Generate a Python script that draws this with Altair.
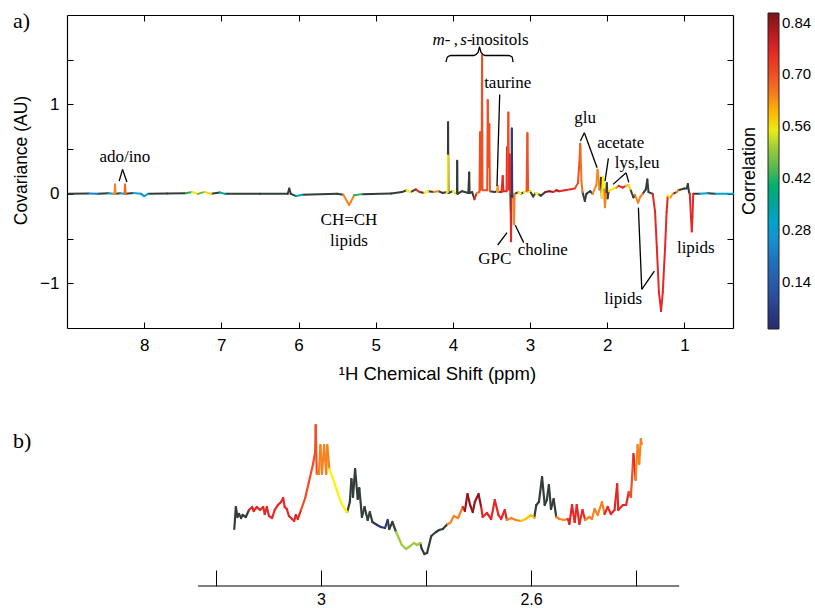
import altair as alt
import pandas as pd

# ---------------- Panel a: covariance spectrum ----------------
# ppm, covariance, correlation of the segment that starts at the point (None = not significant, drawn dark grey)
a_ppm = [8.98, 8.72, 8.60, 8.46, 8.40, 8.385, 8.378, 8.371, 8.31, 8.256,
         8.248, 8.240, 8.14, 8.04, 8.00, 7.95, 7.70, 7.46, 7.38, 7.30,
         7.22, 7.13, 7.02, 6.95, 6.50, 6.14, 6.12, 6.10, 6.03, 5.95,
         5.50, 5.42, 5.37, 5.345, 5.32, 5.28, 5.18, 4.80, 4.66, 4.60,
         4.55, 4.48, 4.43, 4.37, 4.32, 4.25, 4.19, 4.13, 4.08, 4.066,
         4.064, 4.062, 4.057, 4.00, 3.97, 3.947, 3.944, 3.940, 3.88, 3.80,
         3.788, 3.783, 3.75, 3.72, 3.69, 3.655, 3.648, 3.642, 3.628, 3.622,
         3.616, 3.555, 3.548, 3.538, 3.528, 3.520, 3.46, 3.43, 3.42, 3.41,
         3.37, 3.354, 3.345, 3.305, 3.298, 3.292, 3.281, 3.272, 3.263, 3.255,
         3.250, 3.246, 3.241, 3.236, 3.230, 3.215, 3.207, 3.200, 3.15, 3.12,
         3.08, 3.045, 3.034, 3.025, 3.00, 2.96, 2.93, 2.90, 2.86, 2.80,
         2.75, 2.70, 2.66, 2.62, 2.55, 2.48, 2.42, 2.38, 2.36, 2.350,
         2.345, 2.335, 2.32, 2.29, 2.27, 2.22, 2.19, 2.14, 2.125, 2.10,
         2.08, 2.07, 2.055, 2.04, 2.03, 2.015, 2.005, 1.995, 1.98, 1.92,
         1.88, 1.85, 1.80, 1.76, 1.72, 1.70, 1.66, 1.64, 1.60, 1.57,
         1.54, 1.50, 1.48, 1.465, 1.41, 1.38, 1.357, 1.33, 1.302, 1.28,
         1.25, 1.23, 1.215, 1.18, 1.15, 1.10, 1.08, 1.00, 0.97, 0.955,
         0.94, 0.93, 0.915, 0.904, 0.895, 0.885, 0.80, 0.70, 0.60, 0.37]
a_cov = [0.000, 0.004, 0.000, 0.008, 0.000, 0.000, 0.105, 0.000, 0.006, 0.000,
         0.105, 0.000, 0.010, 0.000, -0.025, 0.000, 0.003, 0.008, 0.020, 0.000,
         0.022, 0.000, 0.015, 0.000, 0.002, 0.000, 0.060, 0.000, -0.025, -0.010,
         0.000, -0.010, -0.085, -0.125, -0.085, -0.015, -0.003, 0.003, 0.020, 0.040,
         0.020, 0.050, 0.020, 0.010, 0.030, 0.020, 0.030, 0.010, 0.020, 0.020,
         0.430, 0.800, 0.010, 0.030, 0.010, 0.010, 0.370, 0.000, 0.030, 0.010,
         0.240, 0.010, 0.020, -0.060, 0.010, 0.020, 0.690, 0.050, 0.100, 1.550,
         0.040, 0.040, 1.050, 0.300, 0.780, 0.030, 0.020, 0.030, 0.090, 0.020,
         0.020, 0.200, 0.030, 0.030, 0.520, 0.050, 0.910, 0.050, 0.440, 0.000,
         -0.200, -0.530, -0.050, 0.730, 0.000, -0.050, -0.340, 0.000, 0.020, 0.000,
         0.020, 0.030, 0.680, 0.020, 0.030, -0.030, 0.010, 0.000, -0.020, 0.020,
         0.030, 0.020, 0.040, 0.030, 0.040, 0.050, 0.060, 0.120, 0.350, 0.560,
         0.500, 0.150, 0.020, -0.080, 0.000, 0.030, 0.000, 0.100, 0.270, 0.050,
         0.180, -0.040, 0.190, 0.050, -0.150, 0.000, 0.120, -0.050, 0.030, 0.060,
         0.070, 0.090, 0.070, 0.090, 0.100, 0.050, -0.040, -0.010, -0.100, -0.030,
         0.000, 0.050, 0.160, 0.020, 0.000, -0.200, -0.600, -1.100, -1.310, -1.100,
         -0.600, -0.200, -0.020, -0.040, 0.000, 0.020, 0.040, 0.060, 0.060, 0.110,
         0.020, 0.000, -0.250, -0.420, -0.250, 0.000, 0.000, 0.008, 0.000, 0.000]
a_corr = [None, 0.22, None, 0.30, 0.64, 0.64, 0.64, None, 0.30, 0.67,
          0.67, None, 0.28, 0.25, 0.30, None, None, 0.42, 0.55, 0.45,
          0.58, None, 0.36, None, None, None, None, None, 0.30, None,
          None, 0.64, 0.64, 0.64, 0.64, 0.42, None, None, None, 0.56,
          None, 0.76, None, 0.56, None, 0.64, None, None, 0.57, 0.57,
          None, None, None, 0.56, None, None, None, None, None, None,
          None, None, None, 0.76, 0.64, 0.70, 0.70, 0.70, 0.70, 0.70,
          0.70, 0.70, 0.70, 0.70, 0.70, None, None, 0.62, 0.62, None,
          0.76, 0.76, 0.76, 0.76, 0.76, 0.70, 0.70, 0.76, 0.76, None,
          0.76, 0.76, None, 0.06, None, 0.64, 0.64, None, 0.56, None,
          0.56, 0.70, 0.70, 0.56, None, None, 0.56, None, None, 0.84,
          0.84, 0.76, 0.84, 0.76, 0.76, 0.76, 0.70, 0.70, 0.70, 0.68,
          0.66, 0.66, None, None, None, None, 0.64, 0.64, 0.64, None,
          None, 0.56, 0.56, 0.64, 0.64, None, None, None, 0.57, 0.57,
          0.64, 0.76, 0.76, 0.60, 0.58, None, None, 0.64, 0.64, 0.64,
          None, None, None, None, 0.76, 0.76, 0.76, 0.76, 0.76, 0.76,
          0.76, 0.76, 0.56, 0.62, None, 0.64, None, None, None, None,
          None, 0.76, 0.76, 0.76, 0.76, None, 0.30, None, 0.30, None]

# ---------------- Panel b: expanded region (arbitrary intensity) ----------------
b_ppm = [3.165, 3.162, 3.159, 3.156, 3.152, 3.149, 3.143, 3.137, 3.131, 3.128,
         3.122, 3.116, 3.110, 3.107, 3.103, 3.099, 3.093, 3.088, 3.082, 3.076,
         3.072, 3.069, 3.065, 3.061, 3.055, 3.051, 3.048, 3.044, 3.038, 3.030,
         3.023, 3.015, 3.011, 3.010, 3.008, 3.004, 3.001, 2.998, 2.994, 2.990,
         2.988, 2.984, 2.977, 2.970, 2.962, 2.956, 2.950, 2.945, 2.942, 2.939,
         2.935, 2.930, 2.927, 2.922, 2.917, 2.911, 2.907, 2.902, 2.893, 2.886,
         2.878, 2.873, 2.870, 2.864, 2.857, 2.851, 2.846, 2.838, 2.830, 2.823,
         2.817, 2.811, 2.808, 2.803, 2.798, 2.790, 2.781, 2.775, 2.768, 2.759,
         2.754, 2.747, 2.739, 2.730, 2.726, 2.721, 2.716, 2.711, 2.707, 2.700,
         2.695, 2.692, 2.684, 2.676, 2.669, 2.662, 2.657, 2.650, 2.646, 2.638,
         2.629, 2.619, 2.610, 2.600, 2.594, 2.590, 2.585, 2.579, 2.574, 2.570,
         2.566, 2.562, 2.557, 2.552, 2.546, 2.537, 2.530, 2.527, 2.522, 2.517,
         2.513, 2.508, 2.502, 2.497, 2.489, 2.484, 2.479, 2.473, 2.465, 2.460,
         2.454, 2.448, 2.441, 2.436, 2.434, 2.425, 2.419, 2.414, 2.410, 2.405,
         2.401, 2.397, 2.394, 2.391, 2.389]
b_int = [0.57, 0.79, 0.69, 0.72, 0.68, 0.71, 0.69, 0.76, 0.79, 0.75,
         0.79, 0.76, 0.79, 0.72, 0.79, 0.70, 0.68, 0.76, 0.81, 0.84,
         0.88, 0.79, 0.77, 0.70, 0.67, 0.65, 0.71, 0.67, 0.76, 0.88,
         1.04, 1.22, 1.34, 1.61, 1.12, 1.12, 1.41, 1.12, 1.41, 1.12,
         1.41, 1.17, 1.07, 0.96, 0.84, 0.78, 0.74, 0.84, 1.07, 0.89,
         1.17, 0.87, 0.98, 0.69, 0.79, 0.66, 0.74, 0.64, 0.61, 0.59,
         0.58, 0.66, 0.57, 0.64, 0.54, 0.47, 0.41, 0.37, 0.40, 0.43,
         0.41, 0.43, 0.37, 0.32, 0.33, 0.50, 0.54, 0.56, 0.57, 0.62,
         0.63, 0.70, 0.68, 0.79, 0.75, 0.92, 0.81, 0.74, 0.84, 0.92,
         0.79, 0.69, 0.73, 0.67, 0.86, 0.71, 0.67, 0.76, 0.66, 0.68,
         0.66, 0.65, 0.67, 0.71, 0.68, 0.81, 0.84, 1.09, 0.81, 0.86,
         1.01, 0.77, 0.87, 0.69, 0.67, 0.66, 0.67, 0.62, 0.81, 0.64,
         0.81, 0.62, 0.76, 0.66, 0.69, 0.67, 0.77, 0.71, 0.84, 0.72,
         0.79, 0.72, 0.76, 1.02, 0.76, 0.81, 0.81, 0.94, 0.89, 1.32,
         1.06, 1.41, 1.22, 1.47, 1.42]
b_corr = ([None] * 7 + [0.76] * 21 + [0.70] * 6 + [0.64] * 7 + [0.56] * 5
          + [None] * 12 + [0.05] * 3 + [None] * 3 + [0.50] * 7 + [None] * 8
          + [0.64] * 4 + [0.76] + [0.84] * 6 + [0.76] * 8 + [0.64] * 3
          + [0.59] * 3 + [None] * 9 + [0.64] * 3 + [0.76] * 7 + [0.64] * 6
          + [0.76] * 8 + [0.70] * 2 + [0.76] + [0.64] * 4 + [None])
b_axis_span = [3.234, 2.318]   # extent of the drawn axis line in panel b (ppm)

# ---------------- colour bar ----------------
cb_stops = [0.013, 0.10, 0.20, 0.28, 0.35, 0.42, 0.49, 0.56, 0.63, 0.70, 0.77, 0.866]
cb_colors = ['#262a6c', '#2a4d9c', '#1e73be', '#1ba0db', '#00a49a', '#2bb155',
             '#8cc540', '#fff100', '#f68b1f', '#f04e23', '#e41e26', '#7a1416']
cb_labels = [0.14, 0.28, 0.42, 0.56, 0.70, 0.84]

# ---------------- annotations (panel a, data coordinates) ----------------
ann_text = ['ado/ino', 'CH=CH', 'lipids', 'taurine', 'glu', 'acetate', 'lys,leu',
            'GPC', 'choline', 'lipids', 'lipids']
ann_ppm = [8.25, 5.346, 5.346, 3.289, 2.287, 1.824, 1.613, 3.458, 2.835, 1.794, 0.852]
ann_cov = [0.408, -0.296, -0.530, 1.242, 0.851, 0.572, 0.341, -0.732, -0.631, -1.179, -0.601]

ino_text = ['m-', ',', 's-', 'inositols']
ino_ppm = [4.264, 3.990, 3.905, 3.766]
ino_cov = [1.726, 1.726, 1.726, 1.726]
ino_style = ['italic', 'normal', 'italic', 'normal']

ptr_x = [8.324, 8.280, 3.393, 2.348, 2.296, 1.985, 1.924, 1.755, 3.419, 3.191, 1.596, 1.552]
ptr_y = [0.143, 0.274, 1.112, 0.590, 0.684, 0.397, 0.106, 0.235, -0.572, -0.352, -0.154, -1.067]
ptr_x2 = [8.280, 8.224, 3.428, 2.296, 2.131, 2.028, 1.755, 1.720, 3.298, 3.082, 1.552, 1.389]
ptr_y2 = [0.274, 0.132, 0.087, 0.684, 0.293, 0.143, 0.235, 0.128, -0.434, -0.545, -1.067, -0.863]

brace_ppm = [4.089, 4.069, 4.024, 3.726, 3.674, 3.655, 3.635, 3.583, 3.279, 3.233, 3.220]
brace_cov = [1.473, 1.531, 1.547, 1.547, 1.581, 1.642, 1.581, 1.547, 1.547, 1.531, 1.473]

a_xticks = [1, 2, 3, 4, 5, 6, 7, 8]
a_yticks = [-1, -0.5, 0, 0.5, 1, 1.5]
b_xticks = [3.2, 3.0, 2.8, 2.6, 2.4]

# ---------------- build ----------------
SANS = 'Liberation Sans'
SERIF = 'Liberation Serif'
GREY = '#333d3a'
W_A, H_A = 666, 313
W_B, H_B = 666, 170


def seg_df(p, v, c):
    return pd.DataFrame({'x': p[:-1], 'x2': p[1:], 'y': v[:-1], 'y2': v[1:], 'corr': c[:-1]})


df_a = seg_df(a_ppm, a_cov, a_corr)
df_b = seg_df(b_ppm, b_int, b_corr)

cscale = alt.Scale(domain=cb_stops, range=cb_colors, clamp=True)
xs_a = alt.Scale(domain=[0.37, 9.0], reverse=True, nice=False, zero=False)
ys_a = alt.Scale(domain=[-1.5, 2.0], nice=False, zero=False)
xs_b = alt.Scale(domain=[2.2155, 3.4835], reverse=True, nice=False, zero=False)
ys_b = alt.Scale(domain=[0, 1.7], nice=False, zero=False)


def tick_axis(orient, offset, values, size, domain=True):
    return alt.Axis(orient=orient, offset=offset, values=values, labels=False, ticks=True,
                    tickSize=size, tickColor='black', tickWidth=1, domain=domain,
                    domainColor='black', domainWidth=1.2, grid=False, title=None)


x_lab_a = alt.Axis(orient='bottom', values=a_xticks, ticks=False, tickSize=0, domain=False,
                   grid=False, labelFontSize=17, labelPadding=9, title='¹H Chemical Shift (ppm)',
                   titleFontSize=18.5, titlePadding=11, titleX=370, titleAlign='center')
y_lab_a = alt.Axis(orient='left', values=a_yticks, ticks=False, tickSize=0, domain=False,
                   grid=False, labelFontSize=17, labelPadding=8,
                   labelExpr="datum.value == 0 ? '0' : (datum.value == 1 ? '1' : (datum.value == -1 ? '\u22121' : ''))",
                   title='Covariance (AU)', titleFontSize=17.5, titlePadding=9, titleY=145,
                   titleAlign='center')

legend_a = alt.Legend(title='Correlation', orient='none', legendX=674, legendY=-2,
                      direction='vertical', gradientLength=316, gradientThickness=11,
                      values=cb_labels, format='.2f', labelFont=SANS, labelFontSize=15,
                      labelColor='black', labelOffset=3, labelOverlap=False,
                      titleOrient='left', titleAnchor='middle',
                      titleFont=SANS, titleFontSize=18, titleFontWeight='normal',
                      titleColor='black', titlePadding=8, padding=0,
                      gradientStrokeColor='#222', gradientStrokeWidth=1)

grey_a = alt.Chart(df_a).transform_filter('!isValid(datum.corr)').mark_rule(
    strokeWidth=2, strokeCap='round', color=GREY).encode(
    x=alt.X('x:Q', scale=xs_a, axis=None), x2='x2:Q',
    y=alt.Y('y:Q', scale=ys_a, axis=None), y2='y2:Q')

col_a = alt.Chart(df_a).transform_filter('isValid(datum.corr)').mark_rule(
    strokeWidth=2, strokeCap='round').encode(
    x=alt.X('x:Q', scale=xs_a, axis=x_lab_a), x2='x2:Q',
    y=alt.Y('y:Q', scale=ys_a, axis=y_lab_a), y2='y2:Q',
    color=alt.Color('corr:Q', scale=cscale, legend=legend_a))

tick1_a = alt.Chart(df_a).mark_point(opacity=0).encode(
    x=alt.X('x:Q', scale=xs_a, axis=tick_axis('top', -H_A, a_xticks, 6)),
    y=alt.Y('y:Q', scale=ys_a, axis=tick_axis('right', -W_A, a_yticks, 6)))
tick2_a = alt.Chart(df_a).mark_point(opacity=0).encode(
    x=alt.X('x:Q', scale=xs_a, axis=tick_axis('bottom', -H_A, a_xticks, 6)),
    y=alt.Y('y:Q', scale=ys_a, axis=tick_axis('left', -W_A, a_yticks, 6)))

ann_df = pd.DataFrame({'t': ann_text, 'x': ann_ppm, 'y': ann_cov})
ann_a = alt.Chart(ann_df).mark_text(font=SERIF, fontSize=17, color='black').encode(
    x=alt.X('x:Q', scale=xs_a, axis=None), y=alt.Y('y:Q', scale=ys_a, axis=None), text='t:N')

ino_df = pd.DataFrame({'t': ino_text, 'x': ino_ppm, 'y': ino_cov, 's': ino_style})
ino_it = alt.Chart(ino_df).transform_filter("datum.s == 'italic'").mark_text(
    font=SERIF, fontSize=17, fontStyle='italic', align='left', color='black').encode(
    x=alt.X('x:Q', scale=xs_a, axis=None), y=alt.Y('y:Q', scale=ys_a, axis=None), text='t:N')
ino_no = alt.Chart(ino_df).transform_filter("datum.s == 'normal'").mark_text(
    font=SERIF, fontSize=17, align='left', color='black').encode(
    x=alt.X('x:Q', scale=xs_a, axis=None), y=alt.Y('y:Q', scale=ys_a, axis=None), text='t:N')

ptr_df = pd.DataFrame({'x': ptr_x, 'y': ptr_y, 'x2': ptr_x2, 'y2': ptr_y2})
ptr_a = alt.Chart(ptr_df).mark_rule(color='black', strokeWidth=1.3).encode(
    x=alt.X('x:Q', scale=xs_a, axis=None), x2='x2:Q',
    y=alt.Y('y:Q', scale=ys_a, axis=None), y2='y2:Q')

brace_df = pd.DataFrame({'x': brace_ppm, 'y': brace_cov, 'i': list(range(len(brace_ppm)))})
brace_a = alt.Chart(brace_df).mark_line(color='black', strokeWidth=1.3, interpolate='monotone').encode(
    x=alt.X('x:Q', scale=xs_a, axis=None), y=alt.Y('y:Q', scale=ys_a, axis=None),
    order='i:Q')

lab_a = alt.Chart(pd.DataFrame({'t': ['a)']})).mark_text(
    font=SERIF, fontSize=22, align='left', baseline='middle', color='black').encode(
    x=alt.value(-54), y=alt.value(6), text='t:N')

panel_a = alt.layer(grey_a, col_a, tick1_a, tick2_a, ann_a, ino_it, ino_no, ptr_a, brace_a, lab_a
                    ).resolve_axis(x='independent', y='independent').properties(width=W_A, height=H_A)

# panel b
grey_b = alt.Chart(df_b).transform_filter('!isValid(datum.corr)').mark_rule(
    strokeWidth=2.2, strokeCap='round', color=GREY).encode(
    x=alt.X('x:Q', scale=xs_b, axis=None), x2='x2:Q',
    y=alt.Y('y:Q', scale=ys_b, axis=None), y2='y2:Q')
col_b = alt.Chart(df_b).transform_filter('isValid(datum.corr)').mark_rule(
    strokeWidth=2.2, strokeCap='round').encode(
    x=alt.X('x:Q', scale=xs_b,
            axis=alt.Axis(orient='bottom', values=b_xticks, ticks=False, tickSize=0, domain=False,
                          grid=False, labelFontSize=16, labelPadding=5, title=None,
                          labelExpr="abs(datum.value - 3) < 0.001 ? '3' : (abs(datum.value - 2.6) < 0.001 ? '2.6' : '')")),
    x2='x2:Q',
    y=alt.Y('y:Q', scale=ys_b, axis=None), y2='y2:Q',
    color=alt.Color('corr:Q', scale=cscale, legend=None))
tick_b = alt.Chart(df_b).mark_point(opacity=0).encode(
    x=alt.X('x:Q', scale=xs_b, axis=tick_axis('top', -H_B, b_xticks, 16, domain=False)),
    y=alt.Y('y:Q', scale=ys_b, axis=None))
axis_line_b = alt.Chart(pd.DataFrame({'x': [b_axis_span[0]], 'x2': [b_axis_span[1]], 'y': [0.0]})
                        ).mark_rule(color='black', strokeWidth=1.2).encode(
    x=alt.X('x:Q', scale=xs_b, axis=None), x2='x2:Q', y=alt.Y('y:Q', scale=ys_b, axis=None))
lab_b = alt.Chart(pd.DataFrame({'t': ['b)']})).mark_text(
    font=SERIF, fontSize=22, align='left', baseline='middle', color='black').encode(
    x=alt.value(-54), y=alt.value(25), text='t:N')

panel_b = alt.layer(grey_b, col_b, tick_b, axis_line_b, lab_b).resolve_axis(x='independent').properties(
    width=W_B, height=H_B)

chart = alt.vconcat(panel_a, panel_b, spacing=33).resolve_scale(color='independent').configure_view(
    stroke=None).configure_axis(labelFont=SANS, titleFont=SANS, labelColor='black',
                                titleColor='black', titleFontWeight='normal').properties(
    padding={'left': 12, 'top': 10, 'right': 0, 'bottom': 0}, background='white')

chart.save("out.html", embed_options={"renderer": "svg", "actions": False})
